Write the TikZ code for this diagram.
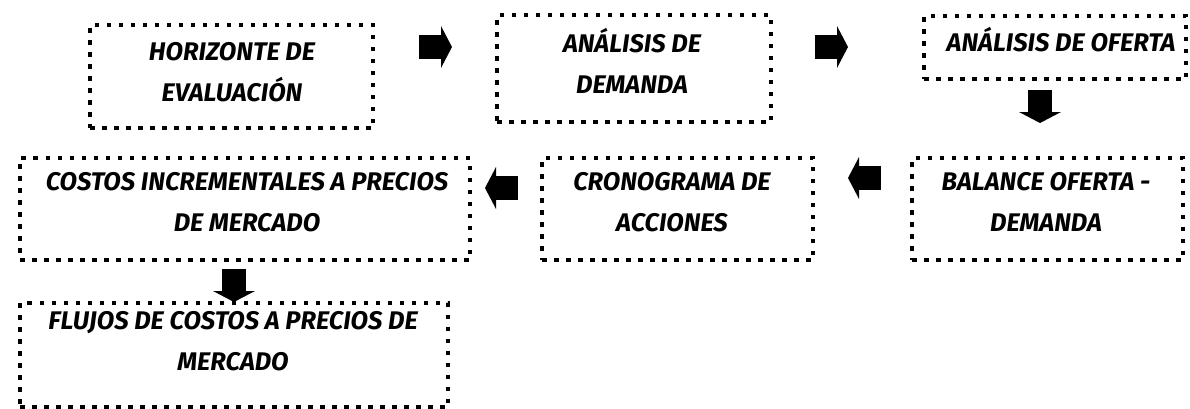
\documentclass[tikz,border=0pt]{standalone}
\usepackage{fontspec}
\setmainfont{Fira Sans}
\begin{document}
\begin{tikzpicture}[x=1pt,y=-1pt,
  box/.style={draw=black, line width=4.5pt, dash pattern=on 4.5pt off 7.5pt, inner sep=0pt},
  txt/.style={font=\fontsize{25.5}{41}\selectfont\bfseries\itshape, align=center, inner sep=0pt},
  barrow/.pic={\fill[black] (-33,-12) rectangle (-11,12); \fill[black] (-11,-21) -- (0,0) -- (-11,21) -- cycle;}]
\path[use as bounding box, fill=white] (0,0) rectangle (1190,408);
% boxes
\node[box, minimum width=283pt, minimum height=103pt] (b1) at (231.5,76.5) {};
\node[box, minimum width=274pt, minimum height=107pt] (b2) at (634,68.5) {};
\node[box, minimum width=262pt, minimum height=63pt] (b3) at (1055,47.5) {};
\node[box, minimum width=450pt, minimum height=102pt] (b4) at (245,209) {};
\node[box, minimum width=271pt, minimum height=102pt] (b5) at (677.5,209) {};
\node[box, minimum width=271pt, minimum height=102pt] (b6) at (1047.5,209) {};
\node[box, minimum width=428pt, minimum height=104pt] (b7) at (234,355) {};
% texts
\node[txt] (t1) at (232,72) {HORIZONTE DE\\EVALUACIÓN};
\node[txt] (t2) at (632,61) {ANÁLISIS DE\\DEMANDA};
\node[txt] (t3) at (1061,40) {ANÁLISIS DE OFERTA};
\node[txt] (t4) at (247,202) {COSTOS INCREMENTALES A PRECIOS\\DE MERCADO};
\node[txt] (t5) at (672,202) {CRONOGRAMA DE\\ACCIONES};
\node[txt] (t6) at (1046,202) {BALANCE OFERTA -\\DEMANDA};
\node[txt] (t7) at (233,341) {FLUJOS DE COSTOS A PRECIOS DE\\MERCADO};
% block arrows
\pic at (452,47) {barrow};
\pic at (848,47) {barrow};
\pic[rotate=-90] at (1040,123) {barrow};
\pic[rotate=180] at (485,188) {barrow};
\pic[rotate=180] at (848,178) {barrow};
\pic[rotate=-90] at (234,302) {barrow};
\end{tikzpicture}
\end{document}
